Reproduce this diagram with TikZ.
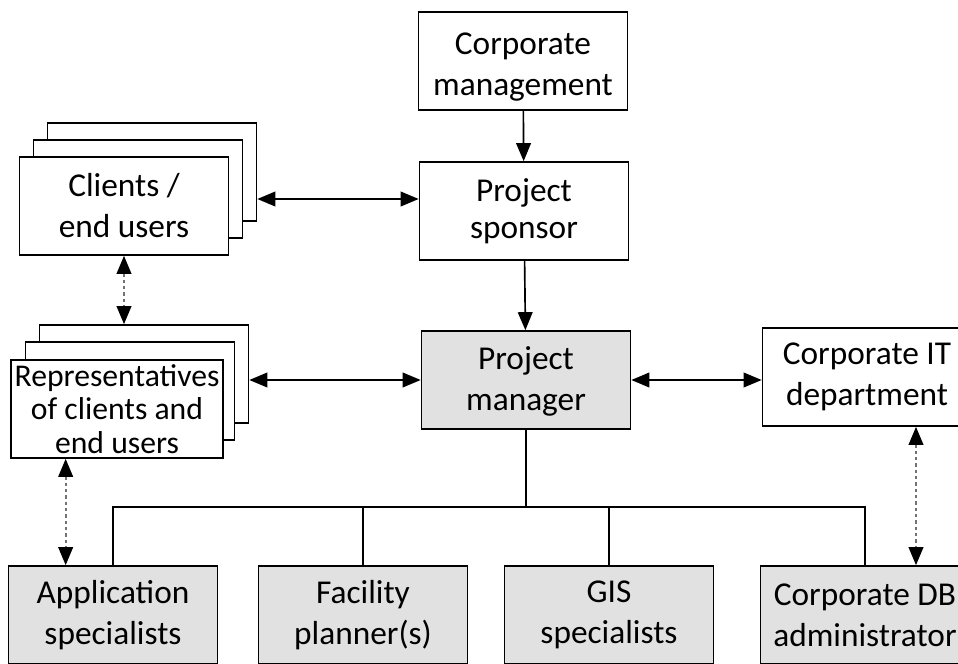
\documentclass[tikz,border=0pt]{standalone}
\usepackage{fontspec}
\setmainfont{Carlito}
\usepackage{tikz}
\usetikzlibrary{arrows.meta}
\definecolor{boxgrey}{RGB}{225, 225, 225}

\tikzset{
  box/.style={draw, fill=white, line width=0.5pt, minimum width=62.7pt, minimum height=29.4pt,
    inner sep=1pt, align=center, font=\fontsize{10}{12.3}\selectfont},
  greybox/.style={box, fill=boxgrey},
  arrow/.style={line width=0.5pt, -{Triangle[length=5.4pt,width=4.4pt]}},
  biarrow/.style={line width=0.5pt, {Triangle[length=5.4pt,width=4.4pt]}-{Triangle[length=5.4pt,width=4.4pt]}},
  dotarrow/.style={line width=0.5pt, black!55, dash pattern=on 1pt off 0.9pt,
    {Triangle[length=5.4pt,width=4.4pt,color=black]}-{Triangle[length=5.4pt,width=4.4pt,color=black]}}
}

\begin{document}
\begin{tikzpicture}[x=0.3pt, y=-0.3pt]
        \useasboundingbox (0,0) rectangle (958,663);
        % top of the hierarchy
        \node [box, text height=20.4pt, text depth=0pt] (cm) at (523,61) {Corporate\\management};
        \node [box, font=\fontsize{10}{11.2}\selectfont] (spon) at (524,211) {Project\\sponsor};
        \node [greybox, text height=18pt, text depth=0pt] (pm) at (526,380) {Project\\manager};
        \node [box] (it) at (867,377) {Corporate IT\\department};
        % stacked boxes
        \node [box] (cliC) at (152,172) {};
        \node [box] (cliB) at (138,189) {};
        \node [box] (cli) at (124,206) {Clients /\\end users};
        \node [box] (repC) at (144,374) {};
        \node [box] (repB) at (130,391) {};
        \node [box, font=\fontsize{9.5}{10}\selectfont] (rep) at (117,409) {Representatives\\of clients and\\end users};
        % team
        \node [greybox] (app) at (113,615) {Application\\specialists};
        \node [greybox] (fac) at (363,615) {Facility\\planner(s)};
        \node [greybox] (gis) at (609,615) {GIS\\specialists};
        \node [greybox] (db) at (865,615) {Corporate DB\\administrator};
        \coordinate (bus) at (519,507);

        \draw [arrow] (cm) -- (spon);
        \draw [arrow] (spon) -- (pm);
        \coordinate (cl) at ([yshift=-8.1pt]cliC.east);
        \draw [biarrow] (cl) -- (cl -| spon.west);
        \draw [biarrow] (pm.west -| repC.east) -- (pm.west);
        \draw [biarrow] (pm.east) -- (pm.east -| it.west);
        \draw [dotarrow] (cli.south) -- (cli.south |- repC.north);
        \coordinate (ra) at ([xshift=17.4pt]app.north west);
        \draw [dotarrow] (ra |- rep.south) -- (ra);
        \coordinate (id) at ([xshift=15.3pt]db.north);
        \draw [dotarrow] (id |- it.south) -- (id);
        % tree to the team
        \draw [line width=0.5pt] (pm.south) -- (pm.south |- bus);
        \draw [line width=0.5pt] (app.north) |- (bus) -| (db.north);
        \draw [line width=0.5pt] (fac.north) -- (fac.north |- bus);
        \draw [line width=0.5pt] (gis.north) -- (gis.north |- bus);
      \end{tikzpicture}
\end{document}
